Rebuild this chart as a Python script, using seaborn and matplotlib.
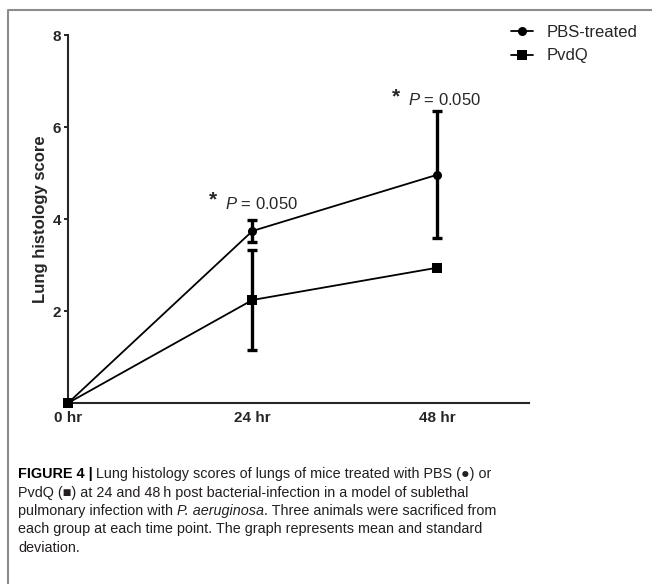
import pandas as pd
import matplotlib.pyplot as plt
import seaborn as sns
from matplotlib.lines import Line2D

# data (mean +/- SD)
hours = [0, 24, 48]
tick_labels = ['0 hr', '24 hr', '48 hr']
pbs_mean = [0.0, 3.74, 4.96]
pbs_sd = [0.0, 0.23, 1.38]
pvdq_mean = [0.0, 2.24, 2.94]
pvdq_sd = [0.0, 1.08, 0.0]
groups = ['PBS-treated', 'PvdQ']
p_labels = ['0.050', '0.050']
p_pos = [(18.3, 4.33), (42.2, 6.58)]

sns.set_style('ticks')
plt.rcParams['font.family'] = ['Liberation Sans', 'DejaVu Sans']
plt.rcParams['mathtext.fontset'] = 'custom'
plt.rcParams['mathtext.it'] = 'Liberation Sans:italic'
plt.rcParams['mathtext.rm'] = 'Liberation Sans'

df = pd.DataFrame({
    'time': hours + hours,
    'score': pbs_mean + pvdq_mean,
    'group': [groups[0]] * 3 + [groups[1]] * 3,
})

fig = plt.figure(figsize=(6.52, 5.84), dpi=100)
ax = fig.add_axes([0.1043, 0.3099, 0.7071, 0.6301])

sns.lineplot(data=df, x='time', y='score', hue='group', style='group',
             markers={'PBS-treated': 'o', 'PvdQ': 's'}, dashes=False,
             palette=['black', 'black'], linewidth=1.3, markersize=6.5,
             markeredgewidth=0, legend=False, ax=ax, clip_on=False, zorder=3)

# SD error bars (skip zero-width ones)
for m, s in [(pbs_mean, pbs_sd), (pvdq_mean, pvdq_sd)]:
    xs = [h for h, v in zip(hours, s) if v > 0]
    ys = [a for a, v in zip(m, s) if v > 0]
    es = [v for v in s if v > 0]
    ax.errorbar(xs, ys, yerr=es, fmt='none', ecolor='black', elinewidth=2.4,
                capsize=3.3, capthick=2.4, zorder=2)

# significance labels
for (px, py), lab in zip(p_pos, p_labels):
    ax.text(px, py + 0.08, '*', fontsize=15, fontweight='bold', va='center', ha='left')
    ax.text(px + 2.1, py, '$P$ = ' + lab, fontsize=12, va='center', ha='left')

ax.set_xlim(0, 60)
ax.set_ylim(0, 8)
ax.set_xticks(hours)
ax.set_xticklabels(tick_labels, fontweight='bold', fontsize=11)
ax.set_yticks([2, 4, 6, 8])
ax.set_yticklabels(['2', '4', '6', '8'], fontweight='bold', fontsize=11)
ax.tick_params(axis='x', length=0, pad=6)
ax.tick_params(axis='y', length=3, width=1.4, pad=2, direction='out')
ax.set_xlabel('')
ax.set_ylabel('Lung histology score', fontweight='bold', fontsize=12)
ax.yaxis.set_label_coords(-0.043, 0.5)
sns.despine(ax=ax)
for sp in ['left', 'bottom']:
    ax.spines[sp].set_linewidth(1.5)

handles = [Line2D([], [], color='black', marker='o', lw=1.3, ms=6.5, mew=0),
           Line2D([], [], color='black', marker='s', lw=1.3, ms=6.5, mew=0)]
fig.legend(handles, groups, loc='upper left', bbox_to_anchor=(0.784, 0.957),
           frameon=False, fontsize=12, handlelength=1.3, handletextpad=0.8,
           labelspacing=0.5, borderpad=0, borderaxespad=0)

# frame and caption on an overlay axes
cax = fig.add_axes([0, 0, 1, 1])
cax.set_xlim(0, 1)
cax.set_ylim(0, 1)
cax.axis('off')
cax.plot([0.0123, 0.0123, 1.0], [0.0, 0.983, 0.983], color='#8c8c8c', lw=1.5,
         clip_on=False)

cap_font = ['Liberation Sans', 'DejaVu Sans']
cap_kw = dict(fontsize=10.4, color='#231f20', family=cap_font)
x0 = 18 / 652
base = [478, 497, 515, 533, 552]

def chain(pieces, y):
    t = cax.text(x0, 1 - y / 584, pieces[0][0], va='baseline', ha='left',
                 **{**cap_kw, **pieces[0][1]})
    for s, kw, gap in pieces[1:]:
        t = cax.annotate(s, xy=(1, 0), xycoords=t, xytext=(gap, 0),
                         textcoords='offset points', va='bottom', ha='left',
                         **{**cap_kw, **kw})
    return t

chain([('FIGURE 4 |', {'fontweight': 'bold', 'color': 'black'}),
       ('Lung histology scores of lungs of mice treated with PBS (\u25cf) or', {}, 2.6)],
      base[0])
chain([('PvdQ (\u25a0) at 24 and 48\u2009h post bacterial-infection in a model of sublethal', {})],
      base[1])
chain([('pulmonary infection with', {}),
       ('P. aeruginosa', {'style': 'italic'}, 2.6),
       ('. Three animals were sacrificed from', {}, 0)], base[2])
chain([('each group at each time point. The graph represents mean and standard', {})],
      base[3])
chain([('deviation.', {})], base[4])

plt.savefig('out.png', dpi=100)
